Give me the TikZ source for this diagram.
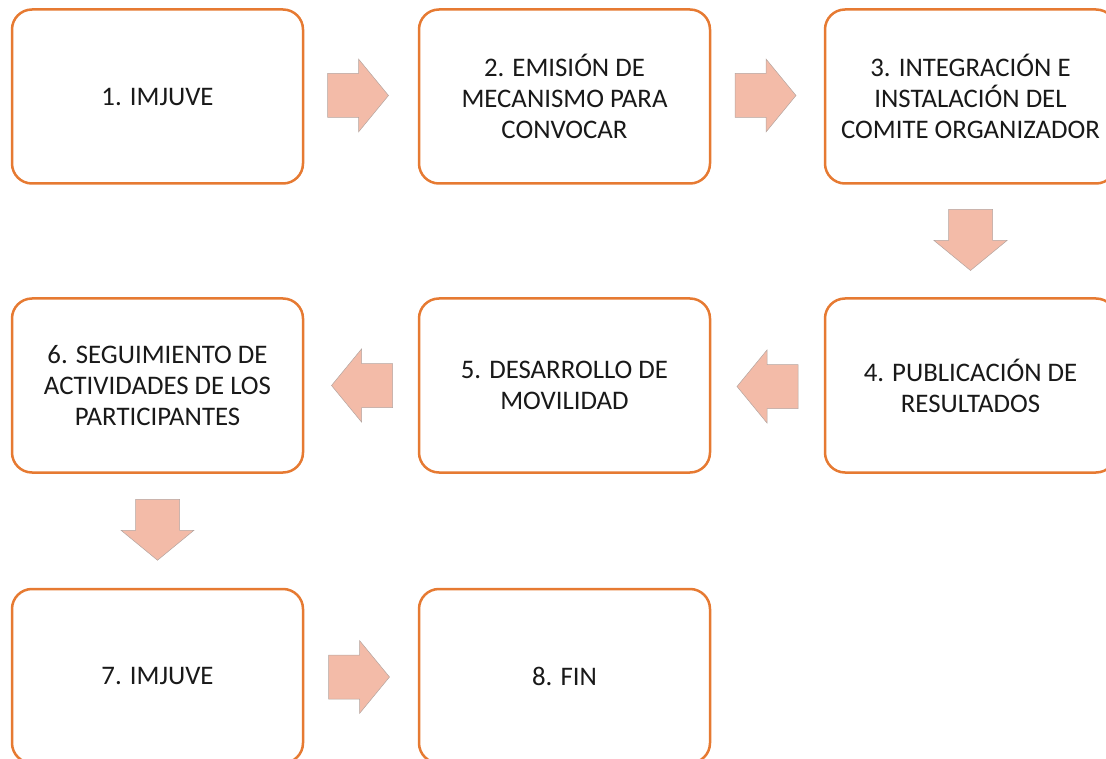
\documentclass[tikz,border=0pt]{standalone}
\usepackage{fontspec}
\setmainfont{Carlito}
\usetikzlibrary{calc}
\definecolor{boxorange}{RGB}{230,122,50}
\definecolor{arrowfill}{RGB}{243,187,168}
\definecolor{arrowedge}{RGB}{180,165,160}
\definecolor{txt}{RGB}{25,25,25}
\tikzset{
  procbox/.style={draw=boxorange, line width=2.5pt, fill=white, rounded corners=20pt,
    minimum width=291pt, minimum height=174pt, inner sep=0pt, align=center,
    text=txt, font=\fontsize{26.8}{31}\selectfont},
  blockarrow/.pic={
    \path[fill=arrowfill, draw=arrowedge, line width=0.5pt]
      (-30.5,-22) -- (0.5,-22) -- (0.5,-36.5) -- (30.5,0) -- (0.5,36.5) -- (0.5,22) -- (-30.5,22) -- cycle;
  }
}
\begin{document}
\begin{tikzpicture}[x=1pt,y=-1pt]
\useasboundingbox (0,0) rectangle (1106,759);
\clip (0,0) rectangle (1106,759);
\node[procbox] (b1) at (157.5,96.5) {1. IMJUVE};
\node[procbox] (b2) at (564.5,96.5) {2. EMISIÓN DE\\MECANISMO PARA\\CONVOCAR};
\node[procbox] (b3) at (970.5,96.5) {3. INTEGRACIÓN E\\INSTALACIÓN DEL\\COMITE ORGANIZADOR};
\node[procbox] (b4) at (970.5,385.5) {4. PUBLICACIÓN DE\\RESULTADOS};
\node[procbox] (b5) at (564.5,385.5) {5. DESARROLLO DE\\MOVILIDAD};
\node[procbox] (b6) at (157.5,385.5) {6. SEGUIMIENTO DE\\ACTIVIDADES DE LOS\\PARTICIPANTES};
\node[procbox] (b7) at (157.5,676) {7. IMJUVE};
\node[procbox] (b8) at (564.5,676) {8. FIN};
\path ($(b1.east)!0.5!(b2.west)+(-3,-1)$) pic {blockarrow};
\path ($(b2.east)!0.5!(b3.west)+(-2,-1)$) pic {blockarrow};
\path ($(b3.south)!0.5!(b4.north)+(0,-1)$) pic[rotate=-90] {blockarrow};
\path ($(b4.west)!0.5!(b5.east)+(0,1)$) pic[rotate=180] {blockarrow};
\path ($(b5.west)!0.5!(b6.east)+(1,0)$) pic[rotate=180] {blockarrow};
\path ($(b6.south)!0.5!(b7.north)+(0,-1)$) pic[rotate=-90] {blockarrow};
\path ($(b7.east)!0.5!(b8.west)+(-2,1)$) pic {blockarrow};
\end{tikzpicture}
\end{document}
